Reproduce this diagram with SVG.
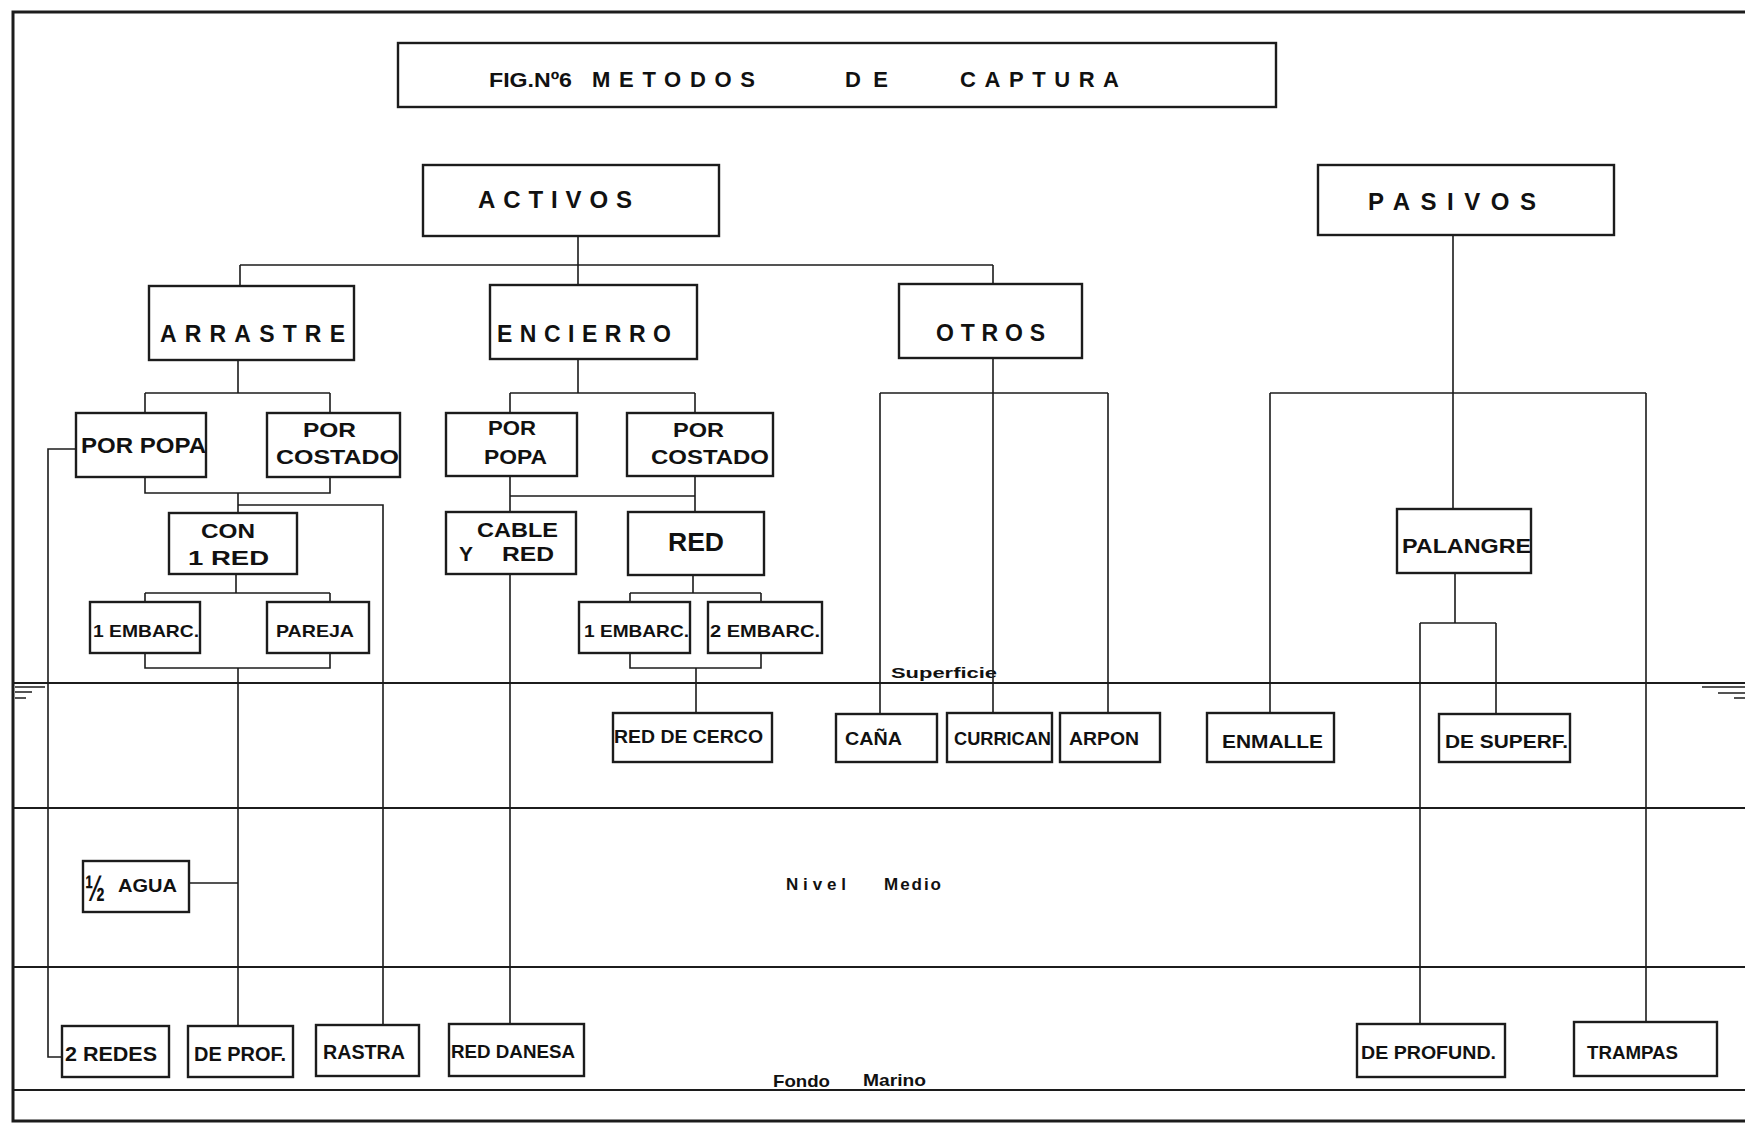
<svg xmlns="http://www.w3.org/2000/svg" width="1745" height="1124" viewBox="0 0 1745 1124">
<style>
.box{fill:#fff;stroke:#1c1c1c;stroke-width:2.4}
.ln{fill:none;stroke:#1c1c1c;stroke-width:1.6}
.wl{fill:none;stroke:#1c1c1c;stroke-width:2}
.t{font-family:"Liberation Sans",Arial,sans-serif;font-weight:bold;fill:#111}
.s17{font-size:17px}.s18{font-size:18px}.s19{font-size:19px}.s20{font-size:20px}.s21{font-size:21px}.s22{font-size:22px}.s23{font-size:23px}.s24{font-size:24px}
</style>
<rect width="1745" height="1124" fill="#fff"/>
<g id="frame">
<path d="M1745 12 H13 V1121 H1745" fill="none" stroke="#1c1c1c" stroke-width="3"/>
<path class="wl" d="M13 683 H1745 M13 808 H1745 M13 967 H1745 M13 1090 H1745"/>
<path class="ln" d="M15 687 H45 M15 692 H32 M15 698 H26 M1702 687 H1745 M1718 693 H1745 M1734 698 H1745"/>
<text class="t" x="891" y="678" font-size="15" textLength="106" lengthAdjust="spacingAndGlyphs">Superficie</text>
<text class="t s17" x="786" y="890" textLength="60" lengthAdjust="spacing">Nivel</text>
<text class="t s17" x="884" y="890" textLength="57" lengthAdjust="spacing">Medio</text>
<text class="t s17" x="773" y="1087" textLength="57" lengthAdjust="spacingAndGlyphs">Fondo</text>
<text class="t s17" x="863" y="1086" textLength="63" lengthAdjust="spacingAndGlyphs">Marino</text>
</g>
<g id="connectors">
<path class="ln" d="M578 236 V285 M240 265 H993 M240 265 V286 M993 265 V284"/>
<path class="ln" d="M238 360 V393 M145 393 H330 M145 393 V413 M330 393 V413"/>
<path class="ln" d="M145 477 V493 H330 V477 M238 493 V513 M238 505 H383 V1025"/>
<path class="ln" d="M76 449 H48 V1057 H62"/>
<path class="ln" d="M236 574 V593 M145 593 H330 M145 593 V602 M330 593 V602"/>
<path class="ln" d="M145 653 V668 H330 V653 M238 668 V1026 M189 883 H238"/>
<path class="ln" d="M578 359 V393 M510 393 H695 M510 393 V413 M695 393 V413"/>
<path class="ln" d="M510 476 V496 H695 V476 M510 496 V512 M695 496 V512"/>
<path class="ln" d="M510 574 V1024"/>
<path class="ln" d="M693 575 V593 M630 593 H761 M630 593 V602 M761 593 V602"/>
<path class="ln" d="M630 653 V668 H761 V653 M696 668 V713"/>
<path class="ln" d="M993 358 V713 M880 393 H1108 M880 393 V714 M1108 393 V713"/>
<path class="ln" d="M1453 235 V509 M1270 393 H1646 M1270 393 V713 M1646 393 V1022"/>
<path class="ln" d="M1455 573 V623 M1420 623 H1496 M1420 623 V1024 M1496 623 V714"/>
</g>
<g id="title"><rect class="box" x="398" y="43" width="878" height="64"/>
<text class="t" x="489" y="87" font-size="21" textLength="83" lengthAdjust="spacingAndGlyphs">FIG.Nº6</text>
<text class="t s22" x="592" y="87" textLength="163" lengthAdjust="spacing">METODOS</text>
<text class="t s22" x="845" y="87" textLength="43" lengthAdjust="spacing">DE</text>
<text class="t s22" x="960" y="87" textLength="159" lengthAdjust="spacing">CAPTURA</text></g>
<g id="activos"><rect class="box" x="423" y="165" width="296" height="71"/><text class="t s24" x="478" y="208" textLength="154" lengthAdjust="spacing">ACTIVOS</text></g>
<g id="pasivos"><rect class="box" x="1318" y="165" width="296" height="70"/><text class="t s24" x="1368" y="210" textLength="168" lengthAdjust="spacing">PASIVOS</text></g>
<g id="arrastre"><rect class="box" x="149" y="286" width="205" height="74"/><text class="t s23" x="160" y="342" textLength="185" lengthAdjust="spacing">ARRASTRE</text></g>
<g id="encierro"><rect class="box" x="490" y="285" width="207" height="74"/><text class="t s23" x="497" y="342" textLength="174" lengthAdjust="spacing">ENCIERRO</text></g>
<g id="otros"><rect class="box" x="899" y="284" width="183" height="74"/><text class="t s23" x="936" y="341" textLength="109" lengthAdjust="spacing">OTROS</text></g>
<g id="arr-popa"><rect class="box" x="76" y="413" width="130" height="64"/><text class="t s22" x="81" y="453" textLength="125" lengthAdjust="spacingAndGlyphs">POR POPA</text></g>
<g id="arr-costado"><rect class="box" x="267" y="413" width="133" height="64"/><text class="t s21" x="303" y="437" textLength="53" lengthAdjust="spacingAndGlyphs">POR</text><text class="t s21" x="276" y="464" textLength="123" lengthAdjust="spacingAndGlyphs">COSTADO</text></g>
<g id="con1red"><rect class="box" x="169" y="513" width="128" height="61"/><text class="t s21" x="201" y="538" textLength="54" lengthAdjust="spacingAndGlyphs">CON</text><text class="t s21" x="188" y="565" textLength="81" lengthAdjust="spacingAndGlyphs">1 RED</text></g>
<g id="arr-1embarc"><rect class="box" x="90" y="602" width="110" height="51"/><text class="t s17" x="93" y="637" textLength="106" lengthAdjust="spacingAndGlyphs">1 EMBARC.</text></g>
<g id="pareja"><rect class="box" x="267" y="602" width="102" height="51"/><text class="t s17" x="276" y="637" textLength="78" lengthAdjust="spacingAndGlyphs">PAREJA</text></g>
<g id="enc-popa"><rect class="box" x="446" y="413" width="131" height="63"/><text class="t s21" x="488" y="435" textLength="48" lengthAdjust="spacingAndGlyphs">POR</text><text class="t s21" x="484" y="464" textLength="63" lengthAdjust="spacingAndGlyphs">POPA</text></g>
<g id="enc-costado"><rect class="box" x="627" y="413" width="146" height="63"/><text class="t s21" x="673" y="437" textLength="51" lengthAdjust="spacingAndGlyphs">POR</text><text class="t s21" x="651" y="464" textLength="118" lengthAdjust="spacingAndGlyphs">COSTADO</text></g>
<g id="cable-y-red"><rect class="box" x="446" y="512" width="130" height="62"/><text class="t s21" x="477" y="537" textLength="81" lengthAdjust="spacingAndGlyphs">CABLE</text><text class="t s21" y="561"><tspan x="459">Y</tspan> <tspan x="502" textLength="52" lengthAdjust="spacingAndGlyphs">RED</tspan></text></g>
<g id="red"><rect class="box" x="628" y="512" width="136" height="63"/><text class="t" x="668" y="551" font-size="25" textLength="56" lengthAdjust="spacingAndGlyphs">RED</text></g>
<g id="enc-1embarc"><rect class="box" x="579" y="602" width="111" height="51"/><text class="t s17" x="584" y="637" textLength="105" lengthAdjust="spacingAndGlyphs">1 EMBARC.</text></g>
<g id="enc-2embarc"><rect class="box" x="708" y="602" width="114" height="51"/><text class="t s17" x="710" y="637" textLength="110" lengthAdjust="spacingAndGlyphs">2 EMBARC.</text></g>
<g id="red-de-cerco"><rect class="box" x="613" y="713" width="159" height="49"/><text class="t s18" x="614" y="743" textLength="149" lengthAdjust="spacingAndGlyphs">RED DE CERCO</text></g>
<g id="cana"><rect class="box" x="836" y="714" width="101" height="48"/><text class="t s18" x="845" y="745" textLength="57" lengthAdjust="spacingAndGlyphs">CAÑA</text></g>
<g id="currican"><rect class="box" x="947" y="713" width="105" height="49"/><text class="t s18" x="954" y="745" textLength="97" lengthAdjust="spacingAndGlyphs">CURRICAN</text></g>
<g id="arpon"><rect class="box" x="1060" y="713" width="100" height="49"/><text class="t s18" x="1069" y="745" textLength="70" lengthAdjust="spacingAndGlyphs">ARPON</text></g>
<g id="enmalle"><rect class="box" x="1207" y="713" width="127" height="49"/><text class="t s19" x="1222" y="748" textLength="101" lengthAdjust="spacingAndGlyphs">ENMALLE</text></g>
<g id="palangre"><rect class="box" x="1397" y="509" width="134" height="64"/><text class="t s21" x="1402" y="553" textLength="129" lengthAdjust="spacingAndGlyphs">PALANGRE</text></g>
<g id="de-superf"><rect class="box" x="1439" y="714" width="131" height="48"/><text class="t s19" x="1445" y="748" textLength="123" lengthAdjust="spacingAndGlyphs">DE SUPERF.</text></g>
<g id="media-agua"><rect class="box" x="83" y="861" width="106" height="51"/><text class="t" x="85" y="901" font-size="36" textLength="20" lengthAdjust="spacingAndGlyphs">½</text><text class="t s18" x="118" y="892" textLength="59" lengthAdjust="spacingAndGlyphs">AGUA</text></g>
<g id="dos-redes"><rect class="box" x="62" y="1026" width="107" height="51"/><text class="t s20" x="65" y="1061" textLength="92" lengthAdjust="spacingAndGlyphs">2 REDES</text></g>
<g id="de-prof"><rect class="box" x="188" y="1026" width="105" height="51"/><text class="t s20" x="194" y="1061" textLength="92" lengthAdjust="spacingAndGlyphs">DE PROF.</text></g>
<g id="rastra"><rect class="box" x="316" y="1025" width="103" height="51"/><text class="t s20" x="323" y="1059" textLength="82" lengthAdjust="spacingAndGlyphs">RASTRA</text></g>
<g id="red-danesa"><rect class="box" x="449" y="1024" width="135" height="52"/><text class="t s19" x="451" y="1058" textLength="124" lengthAdjust="spacingAndGlyphs">RED DANESA</text></g>
<g id="de-profund"><rect class="box" x="1357" y="1024" width="148" height="53"/><text class="t s19" x="1361" y="1059" textLength="135" lengthAdjust="spacingAndGlyphs">DE PROFUND.</text></g>
<g id="trampas"><rect class="box" x="1574" y="1022" width="143" height="54"/><text class="t s18" x="1587" y="1059" textLength="91" lengthAdjust="spacingAndGlyphs">TRAMPAS</text></g>
</svg>
